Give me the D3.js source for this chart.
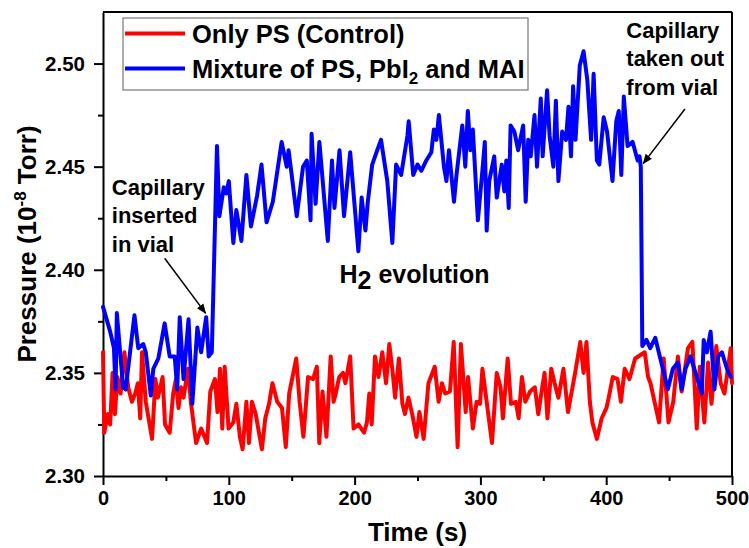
<!DOCTYPE html>
<html>
<head>
<meta charset="utf-8">
<script src="https://cdn.jsdelivr.net/npm/d3@7"></script>
<style>
  body { margin: 0; background: #fff; }
  svg text { font-family: "Liberation Sans", Arial, sans-serif; font-weight: bold; fill: #000; }
  .axis path, .axis line { stroke: #000; stroke-width: 2; }
  .line { fill: none; stroke-width: 4; stroke-linejoin: round; stroke-linecap: round; }
</style>
</head>
<body>
<script>
// Only PS (Control)
var redTime = [0, 1, 3.8, 5.7, 7.6, 9.5, 11.4, 14, 17, 20, 23, 25.6, 27.7, 29.6, 31, 34, 39, 41.7, 43.6, 47.4,
  49.3, 53, 55.8, 58, 60, 62, 64, 67.5, 70, 74, 78, 82.7, 85.3, 89, 91, 93, 94.8, 96.7, 99.8, 103.6,
  106, 108.8, 111, 114, 116, 118.4, 121.4, 126.3, 129, 132, 134.7, 138.5, 142.3, 145.3, 148, 153.6, 156.3, 159.3, 163, 167,
  170, 171.9, 174.5, 177.6, 181, 183.3, 185, 187.8, 190.8, 192.7, 196.5, 199.2, 203, 207.5, 209.8, 211.7, 213.6, 216.2, 219, 222,
  225, 227.6, 230.3, 232.2, 235.2, 238, 240, 242.8, 245.8, 249.2, 251.5, 254.9, 258.7, 263.7, 266.8, 269.4, 272, 275.8, 278.8, 281.9,
  284.5, 288.3, 290.2, 294, 297, 299.7, 301.6, 309.2, 313, 316, 317.9, 321.7, 324.3, 328.1, 330.4, 333, 335.7, 339.5, 343.3, 346,
  347.9, 351, 353.3, 356.3, 359, 362, 366, 369.6, 375.3, 379.4, 382, 384.3, 387, 389, 392.6, 396.4, 400.2, 402, 405.2, 409,
  411.7, 414.7, 418.5, 423, 430.6, 433.3, 435.2, 442, 445.7, 449.5, 453.3, 457, 460, 465, 468.5, 472, 474.4, 478, 481, 483.7,
  487.5, 491, 494, 499, 500];
var redPressure = [2.360, 2.321, 2.330, 2.325, 2.350, 2.330, 2.348, 2.340, 2.360, 2.343, 2.336, 2.340, 2.345, 2.328, 2.360, 2.336, 2.318, 2.347, 2.338, 2.348,
  2.325, 2.321, 2.340, 2.347, 2.333, 2.343, 2.338, 2.352, 2.335, 2.316, 2.323, 2.316, 2.341, 2.347, 2.331, 2.352, 2.323, 2.353, 2.323, 2.326,
  2.335, 2.319, 2.313, 2.336, 2.316, 2.336, 2.330, 2.313, 2.328, 2.335, 2.345, 2.336, 2.333, 2.314, 2.340, 2.357, 2.336, 2.319, 2.348, 2.347,
  2.353, 2.316, 2.341, 2.319, 2.358, 2.336, 2.340, 2.348, 2.350, 2.345, 2.358, 2.323, 2.325, 2.321, 2.326, 2.340, 2.325, 2.358, 2.348, 2.360,
  2.345, 2.364, 2.350, 2.338, 2.357, 2.335, 2.330, 2.338, 2.330, 2.319, 2.331, 2.318, 2.345, 2.353, 2.336, 2.345, 2.340, 2.341, 2.365, 2.314,
  2.364, 2.331, 2.348, 2.323, 2.336, 2.335, 2.352, 2.316, 2.350, 2.343, 2.328, 2.357, 2.335, 2.336, 2.328, 2.348, 2.336, 2.341, 2.343, 2.330,
  2.338, 2.350, 2.328, 2.352, 2.345, 2.338, 2.352, 2.331, 2.350, 2.365, 2.350, 2.365, 2.336, 2.326, 2.318, 2.328, 2.333, 2.338, 2.348, 2.347,
  2.336, 2.352, 2.347, 2.357, 2.360, 2.348, 2.345, 2.326, 2.357, 2.326, 2.336, 2.358, 2.341, 2.362, 2.365, 2.323, 2.353, 2.326, 2.355, 2.335,
  2.363, 2.345, 2.340, 2.362, 2.345];

// Mixture of PS, PbI2 and MAI
var blueTime = [0, 5.7, 8.7, 10, 11, 16, 18, 25, 28, 32, 34, 38, 40, 44, 49, 53, 57, 59, 61, 64,
  68, 71, 75, 78, 82, 84, 86.5, 90.6, 92.5, 96, 98, 100, 103.6, 106, 110, 114, 117.6, 122.5, 126, 130,
  135, 142, 146, 147.5, 150, 154, 159, 162, 165, 165.8, 169, 172, 178.7, 182, 184, 188, 191.6, 196.5, 203, 205.6,
  208.6, 210.5, 214, 218, 221, 226, 230, 233, 237, 242, 243, 246.6, 250, 253, 257, 261, 263, 265, 267, 271,
  273, 275, 279, 281, 285.6, 288, 290, 292, 294, 298, 302, 303.5, 305, 307, 311, 313, 317, 319, 320.6, 322.5,
  324, 327, 330, 334, 336, 338, 340, 343, 345, 348, 349.5, 353, 355, 358, 360, 362, 365, 368, 370, 372,
  373.7, 375.6, 379, 382, 385, 388, 390, 392.6, 394.5, 398, 400.7, 405, 408, 410, 412, 414, 417, 421, 425, 426.5,
  427.5, 428.7, 432, 435, 439, 443, 449, 453, 457, 460, 463, 467, 471, 476, 477.5, 480, 483, 486, 489, 492,
  496, 499];
var bluePressure = [2.382, 2.370, 2.362, 2.342, 2.379, 2.343, 2.342, 2.378, 2.362, 2.364, 2.360, 2.339, 2.352, 2.357, 2.374, 2.358, 2.358, 2.342, 2.377, 2.347,
  2.376, 2.335, 2.372, 2.360, 2.377, 2.358, 2.360, 2.460, 2.426, 2.440, 2.437, 2.443, 2.413, 2.429, 2.414, 2.446, 2.421, 2.436, 2.451, 2.423,
  2.433, 2.462, 2.450, 2.458, 2.446, 2.426, 2.450, 2.453, 2.424, 2.466, 2.432, 2.462, 2.414, 2.453, 2.430, 2.458, 2.426, 2.457, 2.409, 2.435,
  2.419, 2.433, 2.451, 2.458, 2.463, 2.443, 2.413, 2.451, 2.446, 2.465, 2.472, 2.446, 2.451, 2.448, 2.453, 2.457, 2.468, 2.463, 2.475, 2.450,
  2.443, 2.458, 2.433, 2.446, 2.470, 2.450, 2.477, 2.458, 2.468, 2.424, 2.451, 2.462, 2.419, 2.443, 2.455, 2.435, 2.451, 2.438, 2.453, 2.430,
  2.470, 2.467, 2.458, 2.470, 2.433, 2.463, 2.455, 2.475, 2.450, 2.483, 2.455, 2.487, 2.465, 2.450, 2.482, 2.443, 2.467, 2.463, 2.479, 2.455,
  2.489, 2.463, 2.499, 2.506, 2.492, 2.463, 2.495, 2.453, 2.451, 2.474, 2.467, 2.443, 2.472, 2.477, 2.446, 2.484, 2.460, 2.462, 2.453, 2.455,
  2.450, 2.363, 2.366, 2.362, 2.367, 2.357, 2.342, 2.352, 2.355, 2.342, 2.352, 2.358, 2.350, 2.340, 2.366, 2.360, 2.370, 2.342, 2.358, 2.360,
  2.352, 2.348];

var seriesNames = ["Only PS (Control)", "Mixture of PS, PbI"];
var seriesColors = ["#ff0000", "#0000ff"];
var xTicks = [0, 100, 200, 300, 400, 500];
var yTicks = [2.30, 2.35, 2.40, 2.45, 2.50];

var margin = { top: 12, right: 17, bottom: 72, left: 103 },
    width = 749 - margin.left - margin.right,
    height = 548 - margin.top - margin.bottom;

var svg = d3.select("body").append("svg")
    .attr("width", 749)
    .attr("height", 548);

svg.append("defs").append("marker")
    .attr("id", "arrow")
    .attr("viewBox", "0 0 10 10")
    .attr("refX", 9).attr("refY", 5)
    .attr("markerWidth", 10).attr("markerHeight", 10)
    .attr("markerUnits", "userSpaceOnUse")
    .attr("orient", "auto")
    .append("path")
    .attr("d", "M0,1 L10,5 L0,9 z")
    .attr("fill", "#000");

var g = svg.append("g")
    .attr("transform", "translate(" + margin.left + "," + margin.top + ")");

var xScale = d3.scaleLinear().domain([0, 500]).range([0, width]);
var yScale = d3.scaleLinear().domain([2.30, 2.525]).range([height, 0]);

// frame (top and right)
g.append("line").attr("x1", 0).attr("x2", width).attr("y1", 0).attr("y2", 0)
    .attr("stroke", "#000").attr("stroke-width", 2);
g.append("line").attr("x1", width).attr("x2", width).attr("y1", 0).attr("y2", height)
    .attr("stroke", "#000").attr("stroke-width", 2);

// minor ticks
g.append("g")
    .attr("class", "axis")
    .attr("transform", "translate(0," + height + ")")
    .call(d3.axisBottom(xScale).tickValues([50, 150, 250, 350, 450]).tickSize(5).tickFormat(""))
    .select(".domain").remove();
g.append("g")
    .attr("class", "axis")
    .call(d3.axisLeft(yScale).tickValues([2.325, 2.375, 2.425, 2.475]).tickSize(5).tickFormat(""))
    .select(".domain").remove();

// major axes
var xAxis = g.append("g")
    .attr("class", "axis")
    .attr("transform", "translate(0," + height + ")")
    .call(d3.axisBottom(xScale).tickValues(xTicks).tickSize(9).tickSizeOuter(0).tickPadding(6).tickFormat(d3.format("d")));
xAxis.selectAll("text").style("font-size", "20px");

var yAxis = g.append("g")
    .attr("class", "axis")
    .call(d3.axisLeft(yScale).tickValues(yTicks).tickSize(9).tickSizeOuter(0).tickPadding(9).tickFormat(d3.format(".2f")));
yAxis.selectAll("text").style("font-size", "20.5px");

// axis titles
svg.append("text")
    .attr("x", margin.left + width / 2)
    .attr("y", 541)
    .attr("text-anchor", "middle")
    .style("font-size", "26px")
    .text("Time (s)");

var yt = svg.append("text")
    .attr("transform", "translate(36," + (margin.top + height / 2) + ") rotate(-90)")
    .attr("text-anchor", "middle")
    .style("font-size", "26px");
yt.append("tspan").text("Pressure (10");
yt.append("tspan").attr("dy", -10).style("font-size", "17px").text("-8");
yt.append("tspan").attr("dy", 10).text(" Torr)");

// lines
var line = d3.line()
    .x(function (d) { return xScale(d.t); })
    .y(function (d) { return yScale(d.v); });

var redData = redTime.map(function (t, i) { return { t: t, v: redPressure[i] }; });
var blueData = blueTime.map(function (t, i) { return { t: t, v: bluePressure[i] }; });

g.append("path").datum(redData).attr("class", "line").attr("stroke", seriesColors[0]).attr("d", line);
g.append("path").datum(blueData).attr("class", "line").attr("stroke", seriesColors[1]).attr("d", line);

// annotations (in data coordinates)
var arrows = [
  { t0: 49, v0: 2.4056, t1: 81.5, v1: 2.379 },
  { t0: 462.6, v0: 2.478, t1: 429.5, v1: 2.4516 }
];
g.selectAll(".arrow").data(arrows).enter().append("line")
    .attr("class", "arrow")
    .attr("x1", function (d) { return xScale(d.t0); })
    .attr("y1", function (d) { return yScale(d.v0); })
    .attr("x2", function (d) { return xScale(d.t1); })
    .attr("y2", function (d) { return yScale(d.v1); })
    .attr("stroke", "#000").attr("stroke-width", 1.5)
    .attr("marker-end", "url(#arrow)");

var notes = [
  { t: 7, v: 2.4365, lines: ["Capillary", "inserted", "in vial"] },
  { t: 416, v: 2.5125, lines: ["Capillary", "taken out", "from vial"] }
];
notes.forEach(function (n) {
  var tx = g.append("text")
      .attr("x", xScale(n.t))
      .attr("y", yScale(n.v))
      .style("font-size", "22px");
  n.lines.forEach(function (s, i) {
    tx.append("tspan").attr("x", xScale(n.t)).attr("dy", i === 0 ? 0 : 28.5).text(s);
  });
});

var h2 = g.append("text")
    .attr("x", xScale(188))
    .attr("y", yScale(2.3935))
    .style("font-size", "25px");
h2.append("tspan").text("H");
h2.append("tspan").attr("dy", 6).text("2");
h2.append("tspan").attr("dy", -6).text(" evolution");

// legend
var legend = svg.append("g").attr("transform", "translate(123,18)");
legend.append("rect")
    .attr("width", 405).attr("height", 72)
    .attr("fill", "#fff").attr("stroke", "#777").attr("stroke-width", 1.2);
var rows = legend.selectAll(".row").data(seriesNames).enter().append("g")
    .attr("transform", function (d, i) { return "translate(0," + (15.5 + i * 35) + ")"; });
rows.append("line")
    .attr("x1", 2).attr("x2", 62).attr("y1", 0).attr("y2", 0)
    .attr("stroke", function (d, i) { return seriesColors[i]; })
    .attr("stroke-width", 4);
var lt = rows.append("text")
    .attr("x", 69).attr("y", 9)
    .style("font-size", "25.5px")
    .text(function (d) { return d; });
lt.filter(function (d, i) { return i === 1; }).each(function () {
  var t = d3.select(this);
  t.append("tspan").attr("dy", 6).style("font-size", "17px").text("2");
  t.append("tspan").attr("dy", -6).text(" and MAI");
});
</script>
</body>
</html>
